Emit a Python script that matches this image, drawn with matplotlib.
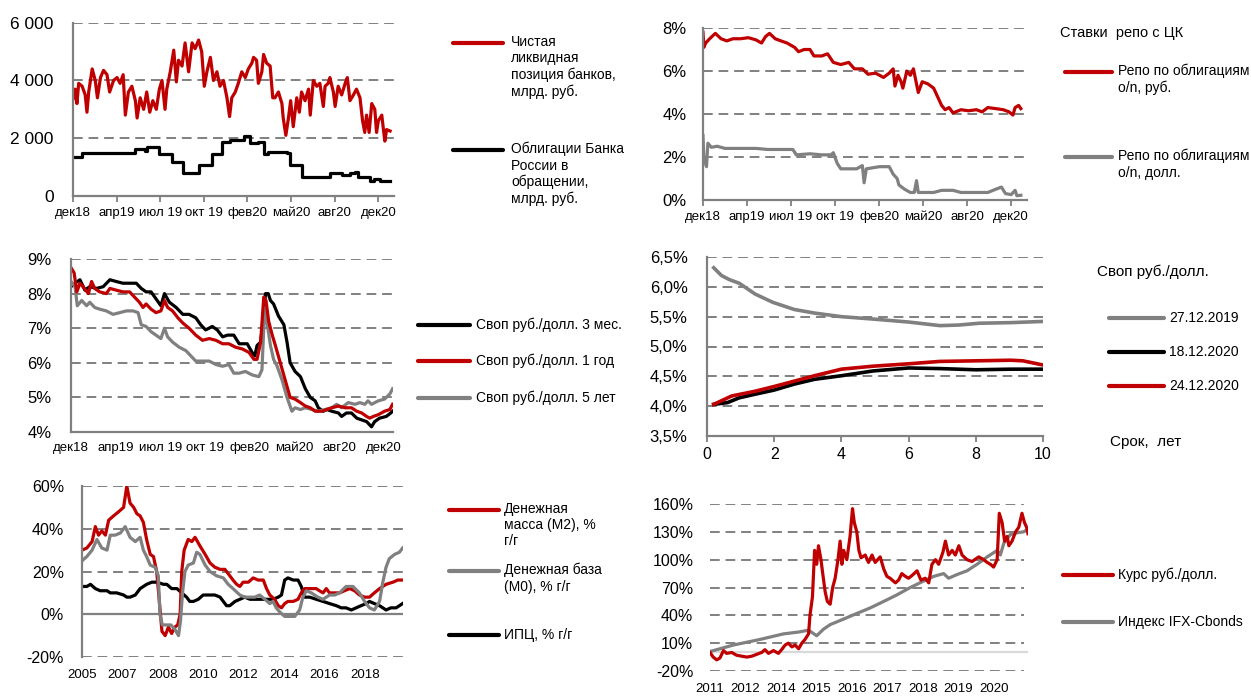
import numpy as np
import matplotlib
matplotlib.use('Agg')
import matplotlib.pyplot as plt
from matplotlib.lines import Line2D

plt.rcParams['font.family'] = ['Liberation Sans', 'DejaVu Sans']

RED = '#C00000'
GREY = '#808080'
LIGHT = '#D9D9D9'
W, H = 1251, 700

# ---------- data ----------
# positions are in label intervals (0 = first label, 1 = second label ...)
months = ['дек18', 'апр19', 'июл 19', 'окт 19', 'фев20', 'май20', 'авг20', 'дек20']

# 1. liquidity, bn rub
liq_t = [0, .05, .09, .13, .21, .28, .32, .36, .44, .51, .56, .63, .70, .78, .84, .93, 1.01, 1.08,
         1.15, 1.20, 1.27, 1.35, 1.43, 1.47, 1.54, 1.62, 1.69, 1.76, 1.83, 1.91, 1.98, 2.04, 2.11,
         2.15, 2.23, 2.31, 2.37, 2.42, 2.50, 2.57, 2.65, 2.73, 2.80, 2.88, 2.95, 3.01, 3.07, 3.15,
         3.22, 3.30, 3.37, 3.45, 3.53, 3.59, 3.64, 3.72, 3.79, 3.87, 3.95, 4.02, 4.10, 4.14, 4.21,
         4.25, 4.33, 4.37, 4.44, 4.52, 4.58, 4.63, 4.71, 4.79, 4.82, 4.88, 4.94, 4.99, 5.05, 5.13,
         5.19, 5.24, 5.32, 5.40, 5.44, 5.51, 5.59, 5.66, 5.74, 5.78, 5.85, 5.89, 5.97, 6.01, 6.08,
         6.16, 6.24, 6.29, 6.35, 6.43, 6.50, 6.58, 6.64, 6.69, 6.73, 6.79, 6.85, 6.92, 6.96, 7.00,
         7.08, 7.11, 7.15, 7.19, 7.27]
liq_v = [3350, 3700, 3200, 3900, 3800, 3500, 2900, 3600, 4400, 4000, 3400, 4100, 4350, 4200, 3600,
         4000, 4100, 3900, 4200, 2800, 3600, 3800, 3300, 2700, 3400, 3000, 3600, 2900, 3300, 3000,
         3700, 4000, 3000, 3700, 4300, 5050, 3950, 4700, 4500, 5300, 4300, 5300, 5100, 5400, 5000,
         3800, 4300, 4800, 4000, 4300, 3800, 4000, 3400, 2750, 3400, 3600, 3900, 4300, 4100, 4400,
         4600, 4800, 4700, 3900, 4300, 4900, 4600, 4500, 3400, 3400, 3600, 3200, 2700, 2100, 2700,
         3300, 2400, 3400, 2900, 3600, 3300, 3700, 2800, 4000, 3800, 3900, 3100, 3800, 3900, 4100,
         3600, 3100, 3800, 3500, 3900, 4100, 3300, 3500, 3700, 3400, 2600, 2200, 2800, 2200, 3200,
         3000, 2200, 2600, 2800, 2400, 1900, 2300, 2250]
obl_t = [0, .21, 1.43, 1.66, 1.69, 1.98, 2.27, 2.53, 2.88, 3.18, 3.41, 3.60, 3.91, 4.06, 4.25,
         4.37, 4.48, 4.90, 4.98, 5.24, 5.89, 6.16, 6.35, 6.47, 6.54, 6.81, 6.89, 7.04, 7.27]
obl_v = [1360, 1500, 1620, 1550, 1680, 1450, 1190, 810, 1070, 1450, 1880, 1940, 2080, 1820, 1880,
         1450, 1530, 1480, 1070, 670, 780, 730, 810, 830, 670, 520, 590, 530, 530]

# 2. repo rates, %
repo_rub_t = [0, .02, .06, .15, .28, .41, .54, .68, .85, 1.03, 1.20, 1.33, 1.42, 1.51, 1.64, 1.77,
              1.91, 2.08, 2.17, 2.30, 2.43, 2.52, 2.70, 2.83, 2.96, 3.13, 3.31, 3.44, 3.62, 3.75,
              3.92, 4.10, 4.23, 4.32, 4.36, 4.43, 4.50, 4.54, 4.63, 4.71, 4.78, 4.85, 4.89, 4.98,
              5.11, 5.24, 5.33, 5.42, 5.50, 5.59, 5.68, 5.86, 6.03, 6.21, 6.34, 6.47, 6.65, 6.82,
              6.95, 7.04, 7.09, 7.17, 7.22]
repo_rub_v = [7.8, 7.1, 7.3, 7.5, 7.75, 7.5, 7.4, 7.5, 7.5, 7.55, 7.45, 7.3, 7.6, 7.75, 7.5, 7.4,
              7.3, 7.1, 6.9, 7.0, 7.0, 6.7, 6.7, 6.8, 6.4, 6.3, 6.4, 6.1, 6.1, 5.85, 5.9, 5.7, 5.9,
              6.1, 5.3, 5.8, 5.5, 5.2, 6.0, 5.8, 6.1, 5.4, 5.0, 5.5, 5.4, 5.2, 4.8, 4.4, 4.2, 4.3,
              4.05, 4.2, 4.15, 4.2, 4.1, 4.3, 4.25, 4.2, 4.1, 3.95, 4.3, 4.4, 4.25]
repo_usd_t = [0, .02, .08, .11, .19, .32, .50, .76, 1.03, 1.20, 1.47, 1.73, 2.04, 2.12, 2.43, 2.70,
              2.91, 2.96, 3.05, 3.13, 3.49, 3.62, 3.66, 3.71, 4.01, 4.23, 4.32, 4.41, 4.45, 4.58,
              4.71, 4.80, 4.85, 4.89, 5.24, 5.42, 5.68, 5.86, 6.47, 6.65, 6.78, 6.87, 7.00, 7.09,
              7.13, 7.22]
repo_usd_v = [3.0, 1.9, 1.55, 2.64, 2.45, 2.5, 2.4, 2.4, 2.4, 2.4, 2.35, 2.35, 2.35, 2.1, 2.15, 2.1,
              2.1, 2.2, 1.7, 1.45, 1.45, 1.6, 0.8, 1.45, 1.55, 1.55, 1.2, 1.0, 0.7, 0.5, 0.35, 0.35,
              0.9, 0.35, 0.35, 0.45, 0.45, 0.35, 0.35, 0.5, 0.6, 0.3, 0.25, 0.45, 0.2, 0.22]

# 3. swap rates, %
sw3m_t = [0, .09, .20, .31, .42, .57, .72, .87, 1.01, 1.16, 1.31, 1.46, 1.57, 1.68, 1.79, 1.90,
          2.01, 2.09, 2.20, 2.35, 2.50, 2.64, 2.79, 2.90, 3.01, 3.16, 3.27, 3.39, 3.50, 3.64, 3.76,
          3.94, 4.05, 4.11, 4.16, 4.24, 4.31, 4.35, 4.41, 4.46, 4.53, 4.64, 4.76, 4.83, 4.90, 5.01,
          5.13, 5.24, 5.35, 5.46, 5.53, 5.64, 5.72, 5.83, 5.98, 6.05, 6.16, 6.27, 6.39, 6.50, 6.61,
          6.72, 6.79, 6.90, 7.05, 7.15, 7.19]
sw3m_v = [8.2, 8.3, 8.4, 8.1, 8.2, 8.15, 8.2, 8.4, 8.35, 8.3, 8.3, 8.3, 8.15, 8.05, 8.05, 7.85,
          7.65, 8.0, 7.75, 7.6, 7.4, 7.4, 7.3, 7.1, 6.95, 7.05, 6.95, 6.75, 6.8, 6.8, 6.55, 6.55,
          6.3, 6.2, 6.5, 6.6, 7.4, 8.0, 8.0, 7.8, 7.7, 7.35, 7.1, 6.6, 6.0, 5.75, 5.6, 5.25, 5.0,
          4.9, 4.7, 4.6, 4.65, 4.6, 4.55, 4.45, 4.55, 4.55, 4.4, 4.35, 4.3, 4.15, 4.3, 4.4, 4.45,
          4.55, 4.6]
sw1y_t = [0, .07, .13, .20, .27, .39, .46, .53, .64, .79, .87, 1.01, 1.16, 1.31, 1.42, 1.53, 1.61,
          1.68, 1.79, 1.90, 2.01, 2.09, 2.16, 2.27, 2.39, 2.50, 2.64, 2.79, 2.94, 3.09, 3.24, 3.39,
          3.53, 3.68, 3.83, 3.98, 4.09, 4.16, 4.24, 4.31, 4.36, 4.42, 4.50, 4.57, 4.68, 4.79, 4.90,
          5.01, 5.13, 5.24, 5.35, 5.46, 5.61, 5.72, 5.83, 5.98, 6.13, 6.27, 6.39, 6.50, 6.61, 6.68,
          6.76, 6.87, 7.01, 7.13, 7.19]
sw1y_v = [8.75, 8.6, 8.05, 8.3, 8.2, 8.0, 8.35, 8.15, 8.05, 8.0, 8.15, 8.1, 8.05, 8.05, 7.9, 7.75,
          7.6, 7.7, 7.55, 7.45, 7.5, 7.8, 7.6, 7.5, 7.3, 7.15, 7.0, 6.8, 6.65, 6.7, 6.65, 6.55,
          6.55, 6.45, 6.4, 6.3, 6.1, 6.1, 6.6, 7.9, 7.8, 7.2, 6.8, 6.5, 6.0, 5.5, 5.0, 4.95, 4.85,
          4.75, 4.7, 4.6, 4.6, 4.65, 4.7, 4.75, 4.7, 4.7, 4.6, 4.55, 4.45, 4.4, 4.45, 4.5, 4.6,
          4.65, 4.8]
sw5y_t = [0, .09, .14, .24, .35, .42, .53, .64, .79, .94, 1.09, 1.24, 1.39, 1.50, 1.57, 1.68, 1.79,
          1.90, 2.01, 2.09, 2.16, 2.27, 2.42, 2.57, 2.68, 2.79, 2.94, 3.09, 3.24, 3.39, 3.53, 3.64,
          3.76, 3.90, 4.05, 4.20, 4.27, 4.33, 4.39, 4.46, 4.53, 4.61, 4.72, 4.83, 4.94, 5.01, 5.13,
          5.24, 5.39, 5.53, 5.68, 5.83, 5.94, 6.05, 6.20, 6.35, 6.46, 6.57, 6.64, 6.72, 6.87, 7.01,
          7.13, 7.19]
sw5y_v = [8.35, 8.2, 7.65, 7.8, 7.65, 7.75, 7.6, 7.55, 7.5, 7.4, 7.45, 7.5, 7.5, 7.45, 7.1, 7.05,
          6.9, 6.8, 6.7, 7.0, 6.75, 6.6, 6.45, 6.35, 6.2, 6.05, 6.05, 6.05, 5.95, 5.9, 5.95, 5.7,
          5.7, 5.75, 5.65, 5.6, 5.8, 7.6, 7.1, 6.5, 6.1, 5.9, 5.5, 5.0, 4.6, 4.7, 4.65, 4.7, 4.65,
          4.6, 4.65, 4.7, 4.8, 4.7, 4.85, 4.8, 4.85, 4.8, 4.9, 4.8, 4.9, 4.95, 5.1, 5.25]

# 4. swap curve, term in years
curve_old_t = [0.2, 0.43, 0.67, 0.96, 1.43, 1.96, 2.6, 3.2, 4.0, 4.94, 6.0, 6.93, 7.5, 8.1, 9.04, 10]
curve_old_v = [6.32, 6.19, 6.12, 6.06, 5.88, 5.74, 5.62, 5.56, 5.5, 5.46, 5.41, 5.35, 5.36, 5.39,
               5.4, 5.42]
curve_1812_t = [0.2, 0.61, 0.96, 1.43, 2.0, 2.6, 3.2, 4.0, 4.94, 6.0, 6.93, 8.0, 9.04, 10]
curve_1812_v = [4.03, 4.06, 4.14, 4.2, 4.27, 4.37, 4.45, 4.51, 4.59, 4.64, 4.63, 4.61, 4.62, 4.62]
curve_2412_t = [0.2, 0.73, 1.43, 2.0, 2.6, 3.2, 4.0, 4.94, 6.0, 6.93, 8.0, 9.04, 9.4, 10]
curve_2412_v = [4.03, 4.17, 4.25, 4.33, 4.42, 4.51, 4.62, 4.67, 4.71, 4.75, 4.76, 4.77, 4.76, 4.69]

# 5. money supply, % y/y
years5 = ['2005', '2007', '2008', '2010', '2012', '2014', '2016', '2018']
m2_t = [0, .12, .25, .33, .41, .49, .58, .66, .78, .91, 1.03, 1.11, 1.19, 1.28, 1.36, 1.44, 1.52,
        1.60, 1.69, 1.77, 1.85, 1.92, 1.98, 2.06, 2.14, 2.22, 2.30, 2.37, 2.43, 2.47, 2.53, 2.63,
        2.72, 2.80, 2.92, 3.05, 3.17, 3.29, 3.42, 3.54, 3.66, 3.74, 3.83, 3.91, 3.99, 4.12, 4.24,
        4.36, 4.49, 4.57, 4.65, 4.77, 4.86, 4.94, 5.02, 5.10, 5.23, 5.35, 5.43, 5.51, 5.64, 5.80,
        5.88, 5.97, 6.05, 6.13, 6.21, 6.38, 6.50, 6.63, 6.75, 6.87, 7.00, 7.12, 7.24, 7.37, 7.53,
        7.70, 7.82, 7.94]
m2_v = [30, 31, 34, 41, 37, 39, 37, 44, 46, 48, 50, 60, 52, 50, 47, 46, 43, 35, 28, 27, 20, 5, -8,
        -10, -6, -9, -6, -5, 0, 20, 30, 35, 34, 36, 32, 28, 24, 22, 21, 21, 18, 16, 14, 13, 15, 15,
        17, 16, 16, 12, 9, 7, 4, 3, 5, 6, 6, 7, 10, 12, 12, 12, 11, 10, 12, 10, 10, 10, 11, 12, 11,
        9, 8, 8, 10, 12, 14, 15, 16, 16]
m0_t = [0, .12, .25, .37, .49, .62, .70, .82, .95, 1.07, 1.19, 1.32, 1.44, 1.52, 1.60, 1.69, 1.81,
        1.89, 1.93, 1.99, 2.10, 2.20, 2.30, 2.39, 2.44, 2.49, 2.55, 2.63, 2.76, 2.84, 2.92, 3.05,
        3.17, 3.33, 3.50, 3.62, 3.74, 3.91, 4.03, 4.16, 4.28, 4.40, 4.53, 4.65, 4.73, 4.81, 4.90,
        5.02, 5.14, 5.27, 5.39, 5.47, 5.56, 5.68, 5.84, 5.97, 6.13, 6.26, 6.38, 6.54, 6.71, 6.87,
        7.00, 7.12, 7.24, 7.37, 7.45, 7.53, 7.61, 7.74, 7.86, 7.94]
m0_v = [25, 27, 30, 35, 31, 30, 37, 37, 38, 41, 36, 34, 36, 30, 27, 23, 22, 18, 0, -5, -5, -5, -7,
        -10, -3, 10, 20, 23, 24, 29, 28, 23, 20, 18, 17, 14, 12, 9, 8, 8, 8, 9, 7, 5, 6, 3, 1, -1,
        -1, -1, 2, 8, 11, 10, 8, 7, 9, 9, 10, 13, 13, 10, 6, 3, 2, 6, 15, 22, 26, 28, 29, 31]
cpi_t = [0, .12, .21, .33, .45, .62, .70, .86, 1.03, 1.11, 1.19, 1.32, 1.44, 1.60, 1.73, 1.85, 2.02,
         2.10, 2.22, 2.35, 2.47, 2.59, 2.67, 2.76, 2.88, 3.00, 3.17, 3.29, 3.42, 3.50, 3.58, 3.66,
         3.79, 3.91, 4.03, 4.16, 4.32, 4.49, 4.61, 4.73, 4.86, 4.94, 5.02, 5.10, 5.23, 5.35, 5.43,
         5.51, 5.64, 5.80, 5.97, 6.13, 6.30, 6.42, 6.54, 6.67, 6.79, 6.91, 7.04, 7.12, 7.24, 7.37,
         7.53, 7.65, 7.78, 7.86, 7.94]
cpi_v = [13, 13, 14, 12, 11, 11, 10, 10, 9, 8, 8, 9, 12, 14, 15, 15, 14, 14, 12, 12, 10, 8, 6, 6, 7,
         9, 9, 9, 8, 6, 4, 4, 6, 7, 8, 7, 7, 7, 7, 7, 8, 9, 16, 17, 16, 16, 13, 8, 8, 7, 6, 5, 4,
         3, 3, 2, 3, 4, 5, 6, 5, 4, 2, 3, 3, 4, 5]

# 6. rub/usd vs IFX-Cbonds, % since 2011
years6 = ['2011', '2012', '2014', '2015', '2016', '2017', '2018', '2019', '2020']
usd_t = [0, .09, .19, .28, .38, .47, .61, .75, .89, 1.04, 1.18, 1.32, 1.46, 1.55, 1.65, 1.79, 1.93,
         2.02, 2.12, 2.21, 2.31, 2.40, 2.50, 2.59, 2.68, 2.78, 2.82, 2.89, 2.95, 3.01, 3.06, 3.13,
         3.18, 3.25, 3.31, 3.39, 3.46, 3.53, 3.61, 3.67, 3.72, 3.77, 3.86, 3.95, 4.02, 4.07, 4.14,
         4.20, 4.26, 4.38, 4.47, 4.57, 4.66, 4.80, 4.90, 4.99, 5.08, 5.23, 5.32, 5.41, 5.51, 5.60,
         5.70, 5.84, 5.95, 6.07, 6.17, 6.26, 6.36, 6.45, 6.57, 6.64, 6.73, 6.83, 6.92, 7.02, 7.11,
         7.25, 7.39, 7.58, 7.72, 7.82, 7.91, 8.00, 8.10, 8.16, 8.24, 8.31, 8.38, 8.43, 8.52, 8.62,
         8.71, 8.80, 8.87, 8.93, 8.97]
usd_v = [0, -5, -8, -6, 2, -1, 0, -3, -4, -5, -4, -2, 0, 3, -1, 2, -1, 3, 8, 10, 6, 8, 4, 10, 14,
         20, 40, 60, 110, 95, 115, 100, 85, 65, 55, 52, 70, 80, 100, 120, 95, 110, 100, 125, 155,
         140, 130, 110, 102, 105, 97, 105, 97, 103, 90, 82, 80, 75, 78, 85, 82, 80, 83, 88, 78, 80,
         75, 95, 100, 95, 108, 120, 105, 110, 105, 115, 105, 100, 98, 103, 100, 97, 95, 92, 100,
         150, 140, 120, 125, 115, 120, 130, 135, 150, 140, 135, 128]
ifx_t = [0, .66, 1.41, 2.07, 2.50, 2.78, 3.01, 3.20, 3.39, 3.77, 4.14, 4.52, 4.90, 5.27, 5.65,
         6.03, 6.31, 6.59, 6.73, 6.97, 7.25, 7.53, 7.82, 8.10, 8.19, 8.29, 8.47, 8.66, 8.85, 8.97]
ifx_v = [1, 8, 14, 20, 22, 24, 18, 25, 30, 36, 42, 48, 55, 62, 70, 77, 82, 85, 80, 84, 88, 95, 103,
         110, 105, 118, 127, 129, 130, 133]


def px_rect(left, top, right, bottom):
    return [left / W, 1 - bottom / H, (right - left) / W, (bottom - top) / H]


def make_axes(fig, rect, ylim, yticks, ylabels, xlim, xticks, xlabels,
              ysize=12, xsize=9.5, ypad=14, xpad=7):
    ax = fig.add_axes(rect)
    ax.set_xlim(xlim)
    ax.set_ylim(ylim)
    ax.set_yticks(yticks)
    ax.set_yticklabels(ylabels, fontsize=ysize)
    ax.set_xticks(xticks)
    ax.set_xticklabels(xlabels, fontsize=xsize)
    for s in ax.spines.values():
        s.set_visible(False)
    ax.tick_params(axis='y', length=0, pad=ypad)
    ax.tick_params(axis='x', length=0, pad=xpad)
    ax.patch.set_alpha(0)
    return ax


def grid(ax, levels, xmax=1.0):
    for lv in levels:
        ax.axhline(lv, xmax=xmax, color=GREY, lw=1.4, dashes=(5, 3), zorder=0)


def axis_lines(ax, bottom=True, left=True, ticks=True):
    if left:
        ax.spines['left'].set_visible(True)
        ax.spines['left'].set_color(GREY)
        ax.spines['left'].set_linewidth(1.6)
    if bottom:
        ax.spines['bottom'].set_visible(True)
        ax.spines['bottom'].set_color(GREY)
        ax.spines['bottom'].set_linewidth(1.6)
        if ticks:
            ax.tick_params(axis='x', length=4, width=1.3, color=GREY, pad=4)


def leg_line(fig, x0, x1, y, color):
    fig.add_artist(Line2D([x0 / W, x1 / W], [1 - y / H, 1 - y / H], color=color, lw=3,
                          solid_capstyle='round', transform=fig.transFigure))


def leg_text(fig, x, y, s, size=10, va='center'):
    fig.text(x / W, 1 - y / H, s, fontsize=size, va=va, ha='left', linespacing=1.2)


fig = plt.figure(figsize=(W / 100, H / 100), dpi=100)

# ---------- panel 1 ----------
ax1 = make_axes(fig, px_rect(73, 22.7, 394, 196), (0, 6000), [0, 2000, 4000, 6000],
                ['0', '2 000', '4 000', '6 000'], (0, 7.36), range(8), months,
                ysize=12.5, ypad=14)
grid(ax1, [2000, 4000, 6000])
axis_lines(ax1)
ax1.plot(liq_t, liq_v, color=RED, lw=2.3)
ax1.plot(obl_t, obl_v, color='black', lw=2.3, drawstyle='steps-post')
leg_line(fig, 453, 503, 43, RED)
leg_text(fig, 511, 35, 'Чистая\nликвидная\nпозиция банков,\nмлрд. руб.', va='top')
leg_line(fig, 453, 503, 150, 'black')
leg_text(fig, 511, 142, 'Облигации Банка\nРоссии в\nобращении,\nмлрд. руб.', va='top')

# ---------- panel 2 ----------
ax2 = make_axes(fig, px_rect(703, 28, 1027, 200), (0, 8), [0, 2, 4, 6, 8],
                ['0%', '2%', '4%', '6%', '8%'], (0, 7.36), range(8), months,
                ysize=12, ypad=12)
grid(ax2, [2, 4, 6, 8])
axis_lines(ax2)
ax2.plot(repo_rub_t, repo_rub_v, color=RED, lw=2.3)
ax2.plot(repo_usd_t, repo_usd_v, color=GREY, lw=2.3)
leg_text(fig, 1060, 33, 'Ставки  репо с ЦК', size=10.5)
leg_line(fig, 1065, 1112, 72, RED)
leg_text(fig, 1118, 64, 'Репо по облигациям\nо/n, руб.', va='top')
leg_line(fig, 1065, 1112, 157, GREY)
leg_text(fig, 1118, 149, 'Репо по облигациям\nо/n, долл.', va='top')

# ---------- panel 3 ----------
ax3 = make_axes(fig, px_rect(71, 259, 393, 432), (4, 9), [4, 5, 6, 7, 8, 9],
                ['4%', '5%', '6%', '7%', '8%', '9%'], (0, 7.2), range(8), months,
                ysize=12, ypad=14)
grid(ax3, [5, 6, 7, 8, 9])
axis_lines(ax3, ticks=False)
ax3.plot(sw3m_t, sw3m_v, color='black', lw=2.3)
ax3.plot(sw5y_t, sw5y_v, color=GREY, lw=2.3)
ax3.plot(sw1y_t, sw1y_v, color=RED, lw=2.3)
leg_line(fig, 418, 470, 325, 'black')
leg_text(fig, 476, 325, 'Своп руб./долл. 3 мес.')
leg_line(fig, 418, 470, 361, RED)
leg_text(fig, 476, 361, 'Своп руб./долл. 1 год')
leg_line(fig, 418, 470, 398, GREY)
leg_text(fig, 476, 398, 'Своп руб./долл. 5 лет')

# ---------- panel 4 ----------
lv4 = [3.5, 4.0, 4.5, 5.0, 5.5, 6.0, 6.5]
ax4 = make_axes(fig, px_rect(707, 257, 1043, 436), (3.5, 6.5), lv4,
                [f'{v:.1f}%'.replace('.', ',') for v in lv4], (0, 10), range(0, 11, 2),
                [str(v) for v in range(0, 11, 2)], ysize=12, xsize=11.5, ypad=14)
grid(ax4, lv4[1:])
axis_lines(ax4)
ax4.plot(curve_old_t, curve_old_v, color=GREY, lw=2.6)
ax4.plot(curve_1812_t, curve_1812_v, color='black', lw=2.6)
ax4.plot(curve_2412_t, curve_2412_v, color=RED, lw=2.6)
leg_text(fig, 1097, 272, 'Своп руб./долл.', size=11)
leg_line(fig, 1109, 1164, 318, GREY)
leg_text(fig, 1169, 318, '27.12.2019')
leg_line(fig, 1109, 1164, 352, 'black')
leg_text(fig, 1169, 352, '18.12.2020')
leg_line(fig, 1109, 1164, 386, RED)
leg_text(fig, 1169, 386, '24.12.2020')
leg_text(fig, 1110, 442, 'Срок,  лет', size=11)

# ---------- panel 5 ----------
ax5 = make_axes(fig, px_rect(82, 486, 403, 657), (-20, 60), [-20, 0, 20, 40, 60],
                ['-20%', '0%', '20%', '40%', '60%'], (0, 7.95), range(8), years5,
                ysize=11.5, xsize=9.5, ypad=13, xpad=9)
grid(ax5, [-20, 20, 40, 60])
axis_lines(ax5, bottom=False)
ax5.axhline(0, color=GREY, lw=1.6, zorder=0)
ax5.plot(cpi_t, cpi_v, color='black', lw=2.3)
ax5.plot(m2_t, m2_v, color=RED, lw=2.3)
ax5.plot(m0_t, m0_v, color=GREY, lw=2.3)
leg_line(fig, 449, 499, 510, RED)
leg_text(fig, 504, 502, 'Денежная\nмасса (М2), %\nг/г', va='top')
leg_line(fig, 449, 499, 571, GREY)
leg_text(fig, 504, 563, 'Денежная база\n(М0), % г/г', va='top')
leg_line(fig, 449, 499, 635, 'black')
leg_text(fig, 504, 635, 'ИПЦ, % г/г')

# ---------- panel 6 ----------
lv6 = [-20, 10, 40, 70, 100, 130, 160]
ax6 = make_axes(fig, px_rect(710, 504, 1028, 671), (-20, 160), lv6,
                [f'{v}%' for v in lv6], (0, 8.97), range(9), years6,
                ysize=11.5, xsize=9.5, ypad=12, xpad=9)
grid(ax6, lv6, xmax=8.87 / 8.97)
ax6.axhline(0, color=LIGHT, lw=1.6, zorder=0)
ax6.plot(ifx_t, ifx_v, color=GREY, lw=2.3)
ax6.plot(usd_t, usd_v, color=RED, lw=2.3)
leg_line(fig, 1063, 1113, 575, RED)
leg_text(fig, 1118, 575, 'Курс руб./долл.')
leg_line(fig, 1063, 1113, 622, GREY)
leg_text(fig, 1118, 622, 'Индекс IFX-Cbonds')

fig.savefig('out.png', dpi=100)
